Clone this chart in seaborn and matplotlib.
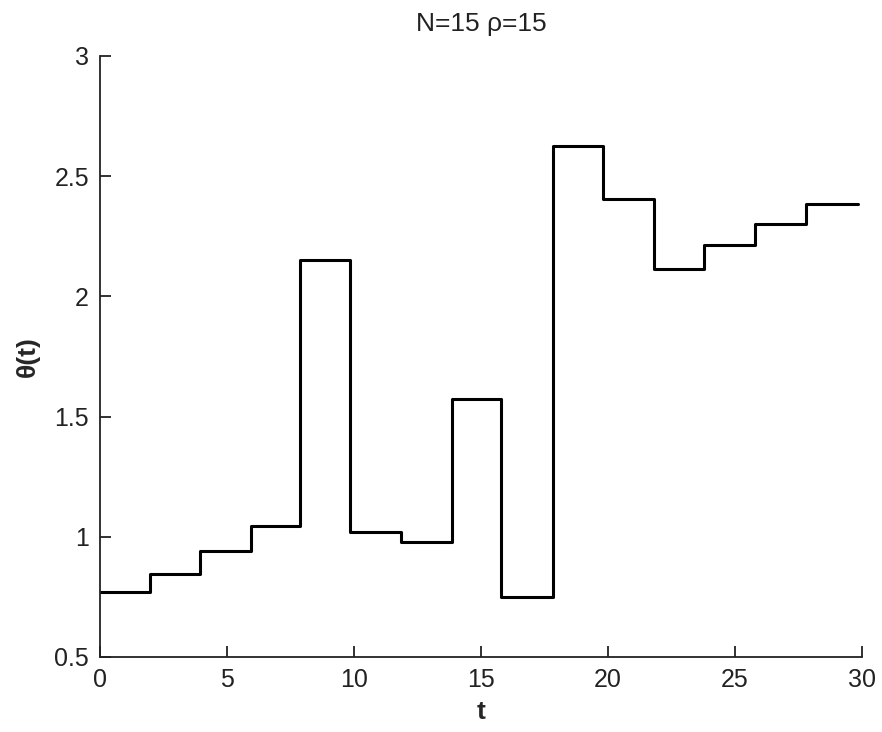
import matplotlib
matplotlib.use("Agg")
import matplotlib.pyplot as plt
import seaborn as sns
import pandas as pd
import numpy as np

# Data
t_edges = [0.0, 1.97, 3.94, 5.93, 7.87, 9.84, 11.86, 13.86, 15.8, 17.83,
           19.8, 21.8, 23.78, 25.8, 27.8, 29.84]
theta = [0.772, 0.845, 0.942, 1.046, 2.15, 1.02, 0.978, 1.575, 0.751,
         2.624, 2.404, 2.112, 2.212, 2.30, 2.383]
x_ticks = [0, 5, 10, 15, 20, 25, 30]
y_ticks = [0.5, 1, 1.5, 2, 2.5, 3]
y_tick_labels = ["0.5", "1", "1.5", "2", "2.5", "3"]
title = "N=15 \u03c1=15"

sns.set_theme(style="white")
plt.rcParams['font.family'] = ['Liberation Sans', 'DejaVu Sans']
plt.rcParams.update({
    "xtick.direction": "in", "ytick.direction": "in",
    "xtick.bottom": True, "ytick.left": True,
    "xtick.major.size": 8, "ytick.major.size": 8,
    "xtick.major.width": 1.3, "ytick.major.width": 1.3,
    "xtick.major.pad": 8, "ytick.major.pad": 8,
    "xtick.color": "#222222", "ytick.color": "#222222",
    "xtick.labelsize": 18, "ytick.labelsize": 18,
})

df = pd.DataFrame({"t": t_edges, "theta": theta + [theta[-1]]})

fig = plt.figure(figsize=(8.82, 7.32), dpi=100)
ax = fig.add_axes([0.1134, 0.1025, 0.8640, 0.8210])
sns.lineplot(data=df, x="t", y="theta", drawstyle="steps-post",
             color="black", linewidth=2.2, ax=ax)

ax.set_xlim(0, 30)
ax.set_ylim(0.5, 3)
ax.set_xticks(x_ticks)
ax.set_yticks(y_ticks)
ax.set_yticklabels(y_tick_labels)
for s in ["top", "right"]:
    ax.spines[s].set_visible(False)
for s in ["left", "bottom"]:
    ax.spines[s].set_color("#222222")
    ax.spines[s].set_linewidth(1.3)
ax.set_xlabel("t", fontsize=19, fontweight="bold", labelpad=6)
ax.set_ylabel("\u03b8(t)", fontsize=19, fontweight="bold", labelpad=10)
ax.set_title(title, fontsize=19, pad=18, color="#222222")

fig.savefig("out.png", dpi=100, facecolor="white")
